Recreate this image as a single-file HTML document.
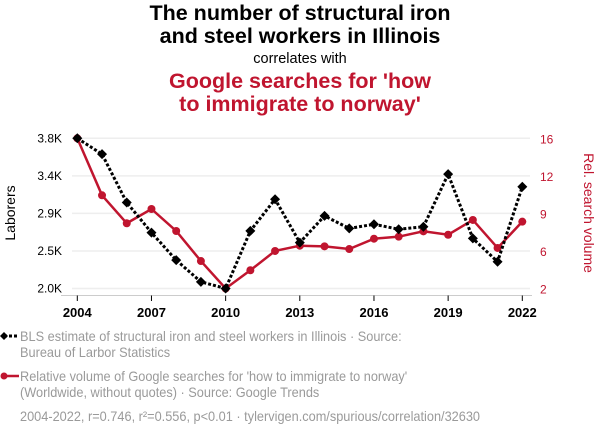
<!DOCTYPE html>
<html><head><meta charset="utf-8"><style>
body{margin:0;background:#fff;font-family:"Liberation Sans",sans-serif;}
#wrap{position:relative;width:600px;height:436px;overflow:hidden;}
.t{position:absolute;left:0;width:600px;text-align:center;}
.leg{position:absolute;left:20px;color:#9a9a9a;font-size:14px;line-height:16px;white-space:nowrap;transform:scaleX(0.91);transform-origin:left top;}
</style></head><body>
<div id="wrap">
<div class="t" style="top:2px;font-size:21.5px;font-weight:bold;line-height:23px;color:#000">The number of structural iron<br>and steel workers in Illinois</div>
<div class="t" style="top:51px;font-size:14.5px;color:#000">correlates with</div>
<div class="t" style="top:70px;font-size:21.5px;font-weight:bold;line-height:23px;color:#c0152f">Google searches for 'how<br>to immigrate to norway'</div>
<svg id="chart" width="600" height="436" style="position:absolute;left:0;top:0"></svg>
<div class="leg" style="top:328px">BLS estimate of structural iron and steel workers in Illinois · Source:<br>Bureau of Larbor Statistics</div>
<div class="leg" style="top:368px">Relative volume of Google searches for 'how to immigrate to norway'<br>(Worldwide, without quotes) · Source: Google Trends</div>
<div class="leg" style="top:408px">2004-2022, r=0.746, r²=0.556, p&lt;0.01 · tylervigen.com/spurious/correlation/32630</div>
</div>
<script>
const years=[2004,2005,2006,2007,2008,2009,2010,2011,2012,2013,2014,2015,2016,2017,2018,2019,2020,2021,2022];
const workers=[3.8,3.61,3.03,2.67,2.34,2.08,2.0,2.69,3.07,2.55,2.87,2.72,2.77,2.71,2.74,3.37,2.60,2.32,3.22];
const searches=[16,10.69,8.08,9.41,7.36,4.56,2,3.70,5.5,5.99,5.93,5.68,6.64,6.83,7.33,7.01,8.39,5.78,8.23];
const leftTicks=[2.0,2.45,2.9,3.35,3.8];
const leftLabels=["2.0K","2.5K","2.9K","3.4K","3.8K"];
const rightTicks=[2,5.5,9,12.5,16];
const rightLabels=["2","6","9","12","16"];
const xTicks=[2004,2007,2010,2013,2016,2019,2022];
const NS="http://www.w3.org/2000/svg";
const svg=document.getElementById('chart');
const x=v=>77.3+(v-2004)*(522.3-77.3)/18;
const yL=v=>288.5-(v-2.0)*(150.2/1.8);
const yR=v=>288.5-(v-2)*(150.2/14);
function mk(tag,attrs){const e=document.createElementNS(NS,tag);for(const k in attrs)e.setAttribute(k,attrs[k]);svg.appendChild(e);return e;}
leftTicks.forEach((t,i)=>{
 const g=mk('line',{x1:72,x2:530,y1:yL(t),y2:yL(t),stroke:'#eee','stroke-width':1.5});
 
 
 const l=mk('text',{x:62,y:yL(t)+4,'text-anchor':'end','font-size':12,fill:'#000'});l.textContent=leftLabels[i];
 
 
});
rightTicks.forEach((t,i)=>{
 const l=mk('text',{x:540,y:yR(t)+5,'font-size':12,fill:'#c0152f'});l.textContent=rightLabels[i];
 
 
});
const ax=mk('line',{x1:61,x2:532,y1:295.5,y2:295.5,stroke:'#ccc','stroke-width':1});


xTicks.forEach(t=>{
 const tk=mk('line',{x1:x(t),x2:x(t),y1:295.5,y2:301,stroke:'#000','stroke-width':1});
 
 
 const l=mk('text',{x:x(t),y:317,'text-anchor':'middle','font-size':13,'font-weight':'bold',fill:'#000'});l.textContent=t;
 
 
});
const yt=mk('text',{x:0,y:0,transform:'translate(15,213) rotate(-90)','text-anchor':'middle','font-size':14,fill:'#000'});yt.textContent='Laborers';


const yt2=mk('text',{x:0,y:0,transform:'translate(584,213) rotate(90)','text-anchor':'middle','font-size':14,fill:'#c0152f'});yt2.textContent='Rel. search volume';


const rl=mk('polyline',{points:years.map((y,i)=>x(y)+','+yR(searches[i])).join(' '),fill:'none',stroke:'#c0152f','stroke-width':2.5});


years.forEach((y,i)=>{const c=mk('circle',{cx:x(y),cy:yR(searches[i]),r:4,fill:'#c0152f'});
 
 });
const bl=mk('polyline',{points:years.map((y,i)=>x(y)+','+yL(workers[i])).join(' '),fill:'none',stroke:'#000','stroke-width':3,'stroke-dasharray':'3 2'});


years.forEach((y,i)=>{const cx=x(y),cy=yL(workers[i]);const p=mk('polygon',{points:`${cx},${cy-5} ${cx+5},${cy} ${cx},${cy+5} ${cx-5},${cy}`,fill:'#000'});
 
 });
const m1=mk('line',{x1:4,x2:19,y1:336,y2:336,stroke:'#000','stroke-width':3,'stroke-dasharray':'3 2'});


mk('polygon',{points:'4,332 8,336 4,340 0,336',fill:'#000'});
const m2=mk('line',{x1:4,x2:19,y1:376,y2:376,stroke:'#c0152f','stroke-width':2.5});


mk('circle',{cx:4,cy:376,r:3.5,fill:'#c0152f'});
</script>
</body></html>
